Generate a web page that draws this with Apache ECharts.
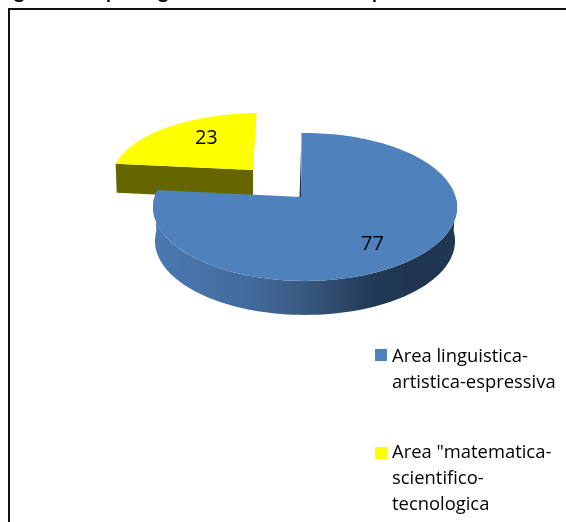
<!DOCTYPE html>
<html>
<head>
<meta charset="utf-8">
<style>html,body{margin:0;padding:0;background:#fff}#c{width:566px;height:522px}</style>
<script src="https://cdn.jsdelivr.net/npm/echarts@6/dist/echarts.min.js"></script>
</head>
<body>
<div id="c"></div>
<script>
// Data
var areaNames = ['Area linguistica-\nartistica-espressiva', 'Area "matematica-\nscientifico-\ntecnologica'];
var areaValues = [77, 23];
var areaColors = ['#4f81bd', '#ffff00'];
// Only the lower tips of the cropped heading survive in the picture
var titleTips = ['g', 'p', 'g', 'p'];

var total = areaValues[0] + areaValues[1];
var START = -1.5, K = 0.135;
var deg = Math.PI / 180;

// Projects a clockwise-from-top angle on the tilted disc, relative to the slice apex
function project(theta, g, f) {
  f = f === undefined ? 1 : f;
  var u = Math.sin(theta * deg) * f, v = -Math.cos(theta * deg) * f;
  var w = 1 / (1 - K * v);
  return [g.ax + g.shift * f + g.rx * u * w, g.ay + g.ry * v * w];
}
function arc(a0, a1, g, dy, sx) {
  var pts = [], n = Math.max(2, Math.ceil(Math.abs(a1 - a0) / 2));
  var mid = g.ax + g.shift;
  for (var i = 0; i <= n; i++) {
    var p = project(a0 + (a1 - a0) * i / n, g);
    pts.push([mid + (p[0] - mid) * (sx || 1), p[1] + (dy || 0)]);
  }
  return pts;
}
function angles(index) {
  var before = 0;
  for (var i = 0; i < index; i++) before += areaValues[i];
  return [START + before / total * 360, START + (before + areaValues[index]) / total * 360];
}

var geomBlue = {ax: 301, ay: 197, shift: 4, rx: 150.6, ry: 72.6, depth: 34};
var geomYellow = {ax: 253, ay: 170, shift: 7, rx: 147, ry: 64.7, depth: 29};
var labelFont = '20px "Open Sans"';

function renderBlue(params, api) {
  var g = geomBlue, a = angles(0), children = [];
  var topArc = arc(a[0], a[1], g);
  var lower = arc(90, 270, g);
  var lowerBottom = arc(270, 90, g, g.depth, 0.987);
  children.push({type: 'polygon', shape: {points: lower.concat(lowerBottom)},
    style: {fill: new echarts.graphic.LinearGradient(0, 0, 1, 0, [
      {offset: 0, color: '#4a7ab2'}, {offset: 0.3, color: '#436c9e'},
      {offset: 0.5, color: '#38597f'}, {offset: 0.72, color: '#223a57'},
      {offset: 0.85, color: '#1f344e'}, {offset: 1, color: '#213851'}])}});
  children.push({type: 'polygon', shape: {points: [[g.ax - 1.5, g.ay], [g.ax, g.ay - 48], [g.ax, g.ay]]},
    style: {fill: '#1f3550'}});
  children.push({type: 'polygon', shape: {points: [[g.ax, g.ay]].concat(topArc)},
    style: {fill: areaColors[0]}});
  var bis = project((a[0] + a[1]) / 2, g, 0.63);
  children.push({type: 'text', style: {text: String(api.value(0)), x: bis[0], y: bis[1] + 12,
    align: 'center', verticalAlign: 'middle', fill: '#000', font: labelFont}});
  return {type: 'group', children: children};
}
function renderYellow(params, api) {
  var g = geomYellow, a = angles(1), children = [];
  var topArc = arc(a[0], a[1], g);
  var corner = topArc[0];
  children.push({type: 'polygon',
    shape: {points: [corner, [g.ax, g.ay], [g.ax, g.ay + g.depth], [corner[0] + 1, corner[1] + g.depth]]},
    style: {fill: '#666600'}});
  children.push({type: 'polygon', shape: {points: [[g.ax, g.ay]].concat(topArc)},
    style: {fill: areaColors[1]}});
  var bis = project((a[0] + a[1]) / 2, g, 0.53);
  children.push({type: 'text', style: {text: String(api.value(0)), x: bis[0], y: bis[1] - 8,
    align: 'center', verticalAlign: 'middle', fill: '#000', font: labelFont}});
  return {type: 'group', children: children};
}

function squareIcon(h, off) {
  return 'path://M0 ' + off + 'H12V' + (off + 12) + 'H0Z M0 0H0.01V0.01H0Z M0 ' + h + 'H0.01V' + (h - 0.01) + 'H0Z';
}
var tipX = [14, 106, 158, 372];
var legendText = {fontFamily: 'Open Sans', fontSize: 18.4, lineHeight: 26, color: '#000'};

var chart = echarts.init(document.getElementById('c'), null, {renderer: 'canvas'});
chart.setOption({
  animation: false,
  backgroundColor: '#ffffff',
  legend: [
    {data: [areaNames[0]], orient: 'vertical', left: 375, top: 344, padding: 0, itemWidth: 12, itemHeight: 52,
     icon: squareIcon(52, 5), selectedMode: false, formatter: function (n) { return n; }, textStyle: legendText},
    {data: [areaNames[1]], orient: 'vertical', left: 375, top: 440, padding: 0, itemWidth: 12, itemHeight: 78,
     icon: squareIcon(78, 7), selectedMode: false, formatter: function (n) { return n; }, textStyle: legendText}
  ],
  graphic: [
    {type: 'polyline', silent: true, shape: {points: [[9, 522], [9, 9], [566, 9]]},
     style: {stroke: '#111', lineWidth: 2, fill: null}}
  ].concat(titleTips.map(function (t, i) {
    return {type: 'text', silent: true, x: tipX[i], y: -18,
      style: {text: t, font: 'bold 20px Lato', fill: '#000'}};
  })),
  series: [
    {type: 'custom', name: areaNames[1], coordinateSystem: 'none', z: 2,
     itemStyle: {color: areaColors[1]}, data: [[areaValues[1]]], renderItem: renderYellow},
    {type: 'custom', name: areaNames[0], coordinateSystem: 'none', z: 3,
     itemStyle: {color: areaColors[0]}, data: [[areaValues[0]]], renderItem: renderBlue}
  ]
});
</script>
</body>
</html>
